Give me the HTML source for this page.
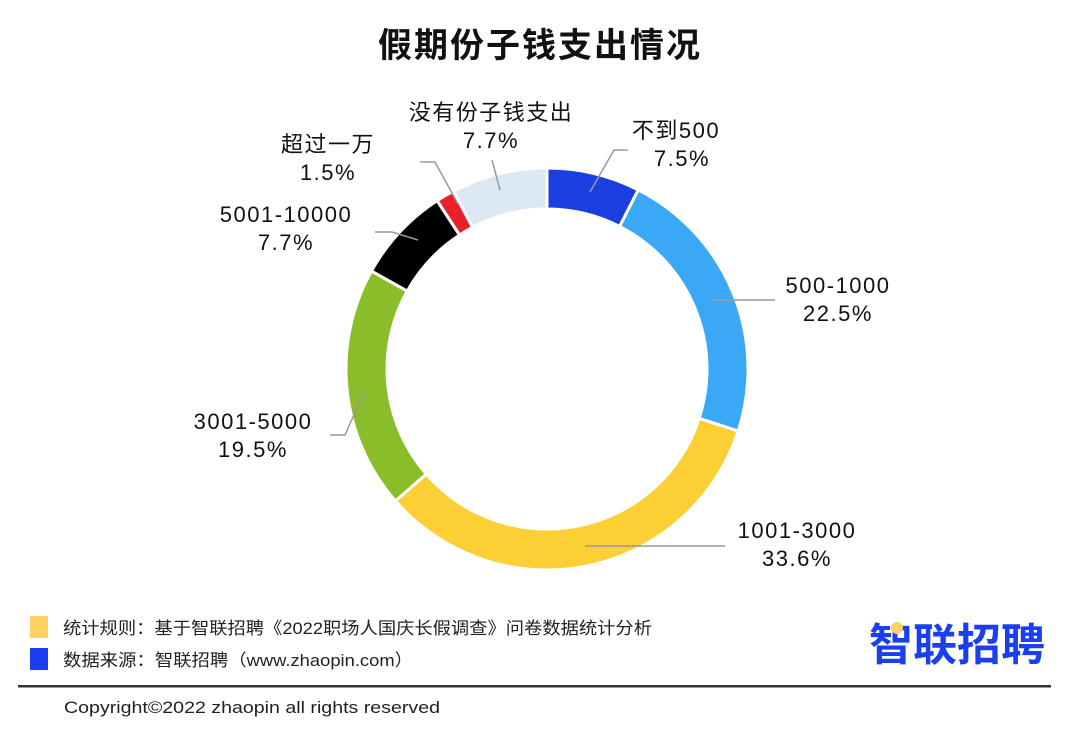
<!DOCTYPE html>
<html><head><meta charset="utf-8"><style>
body{margin:0;width:1080px;height:737px;background:#fff;overflow:hidden;font-family:"Liberation Sans","Noto Sans CJK SC",sans-serif}
svg text{font-family:"Liberation Sans","Noto Sans CJK SC",sans-serif}
</style></head><body>
<svg id="s" width="1080" height="737" viewBox="0 0 1080 737">
<text x="540" y="57" font-size="34" font-weight="bold" text-anchor="middle" fill="#111" letter-spacing="2">假期份子钱支出情况</text>
<g id="ring"></g>
<g stroke="#999" stroke-width="1.5" fill="none">
<polyline points="590,192 614,150 628,150"/>
<polyline points="712,300 775,300"/>
<polyline points="585,546 725,546"/>
<polyline points="365,390 345,435 330,435"/>
<polyline points="418,240 392,232 375,232"/>
<polyline points="458,204 435,162 420,162"/>
<polyline points="500,190 492,160"/>
</g>
<g font-size="22" fill="#111" text-anchor="middle" letter-spacing="1.5">
<text x="676" y="138">不到500</text><text x="682" y="166">7.5%</text>
<text x="838" y="293">500-1000</text><text x="838" y="321">22.5%</text>
<text x="797" y="538">1001-3000</text><text x="797" y="566">33.6%</text>
<text x="253" y="429">3001-5000</text><text x="253" y="457">19.5%</text>
<text x="286" y="222">5001-10000</text><text x="286" y="250">7.7%</text>
<text x="328" y="152">超过一万</text><text x="328" y="180">1.5%</text>
<text x="491" y="120">没有份子钱支出</text><text x="491" y="148">7.7%</text>
</g>
<rect x="30" y="616" width="18" height="22" fill="#fdd25e"/>
<rect x="30" y="648" width="18" height="22" fill="#1b3ff0"/>
<text x="63" y="634" font-size="17" fill="#222" textLength="589" lengthAdjust="spacingAndGlyphs">统计规则：基于智联招聘《2022职场人国庆长假调查》问卷数据统计分析</text>
<text x="63" y="666" font-size="17" fill="#222" textLength="350" lengthAdjust="spacingAndGlyphs">数据来源：智联招聘（www.zhaopin.com）</text>
<text x="1045" y="660" font-size="44" font-weight="bold" fill="#1b3ff0" text-anchor="end">智联招聘</text>
<circle cx="897" cy="628" r="6" fill="#fdd25e"/>
<rect x="18" y="685" width="1033" height="2.5" fill="#333"/>
<text x="64" y="713" font-size="17" fill="#222" textLength="376" lengthAdjust="spacingAndGlyphs">Copyright©2022 zhaopin all rights reserved</text>
</svg>
<script>
var d=[[7.5,"#1a3fe0"],[22.5,"#3aa8f5"],[33.6,"#fccf35"],[19.5,"#8abd2a"],[7.7,"#000"],[1.5,"#e8202a"],[7.7,"#dde8f5"]];
var cx=547,cy=369,R=201,r=160,a=0,h="";
function p(ang,rad){var t=(ang/100)*2*Math.PI-Math.PI/2;return [(cx+rad*Math.cos(t)).toFixed(2),(cy+rad*Math.sin(t)).toFixed(2)];}
d.forEach(function(s){var b=a+s[0],l=s[0]>50?1:0,A=p(a,R),B=p(b,R),C=p(b,r),D=p(a,r);
h+='<path d="M'+A+' A'+R+' '+R+' 0 '+l+' 1 '+B+' L'+C+' A'+r+' '+r+' 0 '+l+' 0 '+D+' Z" fill="'+s[1]+'" stroke="#fff" stroke-width="3"/>';a=b;});
document.getElementById("ring").innerHTML=h;
</script>
</body></html>
